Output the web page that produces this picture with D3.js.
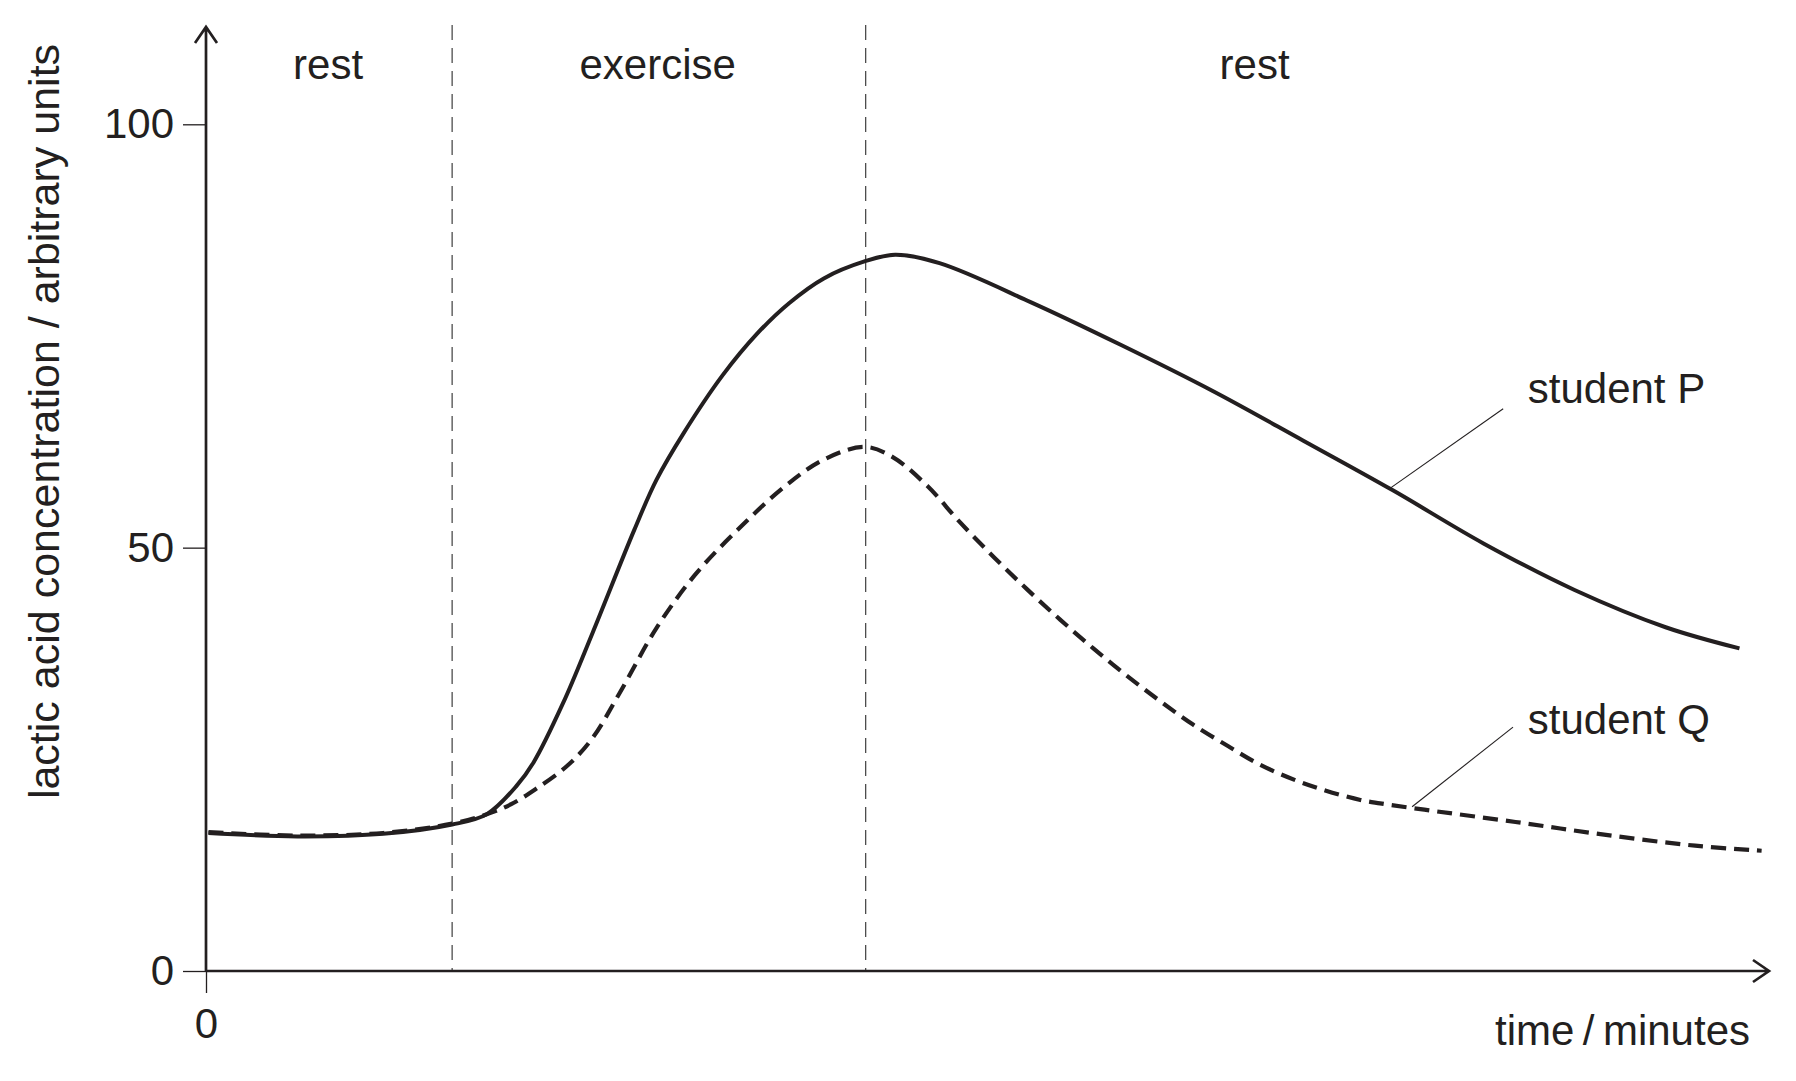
<!DOCTYPE html>
<html>
<head>
<meta charset="utf-8">
<script src="https://cdn.jsdelivr.net/npm/d3@7"></script>
<style>
    body { margin: 0; background: #ffffff; }
    svg { display: block; }
</style>
</head>
<body>
<svg id="chart"></svg>
<script>
// time in minutes (arbitrary scale, the axis has no numbers except 0)
const timeP = [0.1, 3.7, 7.2, 10.0, 11.4, 12.6, 13.3, 14.5, 15.7, 17.4, 18.3, 19.4, 21.0, 22.4, 23.7,
    25.1, 26.75, 28.0, 29.8, 33.5, 37.2, 40.9, 44.6, 48.2, 51.9, 55.6, 59.3, 62.3];
const lacticP = [16.3, 15.9, 16.2, 17.3, 18.5, 21.8, 24.6, 31.6, 39.9, 52.1, 58.0, 63.5, 70.4, 75.3, 78.9,
    81.8, 83.8, 84.6, 83.6, 79.0, 73.9, 68.5, 62.6, 56.8, 50.5, 45.0, 40.6, 38.1];

const timeQ = [0.1, 3.7, 7.2, 10.0, 11.4, 12.4, 13.4, 14.7, 15.7, 16.8, 18.3, 19.9, 21.6, 23.5, 25.1,
    26.75, 27.9, 29.3, 30.6, 32.0, 33.35, 34.7, 36.05, 37.4, 38.8, 40.1, 41.5, 42.8, 44.2, 45.5,
    46.9, 47.7, 49.5, 53.2, 56.8, 60.5, 63.2];
const lacticQ = [16.4, 16.0, 16.3, 17.4, 18.5, 19.7, 21.5, 24.3, 27.5, 32.8, 40.5, 46.9, 52.1, 57.2, 60.4,
    61.9, 60.7, 57.3, 53.1, 48.9, 45.1, 41.5, 38.1, 34.9, 31.8, 29.1, 26.6, 24.4, 22.6, 21.3,
    20.2, 19.8, 19.05, 17.6, 16.1, 14.8, 14.2];

// phase boundaries and labels
const phaseBoundaries = [10.0, 26.8];
const phaseLabels = ["rest", "exercise", "rest"];
const phaseLabelTimes = [4.96, 18.35, 42.6];

const yTicks = [0, 50, 100];
const xTicks = [0];

// series labels with leader lines: [time, value] of label and of leader ends
const seriesNames = ["student P", "student Q"];
const labelAt = [[53.7, 67.1], [53.7, 28.0]];
const leaderFrom = [[48.1, 57.0], [49.0, 19.4]];
const leaderTo = [[52.7, 66.4], [53.1, 28.8]];

const W = 1796, H = 1081;
const ink = "#231f20";
const font = "'Liberation Sans', Arial, Helvetica, sans-serif";

const svg = d3.select("#chart").attr("width", W).attr("height", H);
svg.append("rect").attr("width", W).attr("height", H).attr("fill", "#ffffff");

const xScale = d3.scaleLinear().domain([0, 63.5]).range([206, 1769]);
const yScale = d3.scaleLinear().domain([0, 100]).range([971, 124.3]);
const yTop = 27;

// dashed phase boundaries
svg.selectAll(".phase-line")
    .data(phaseBoundaries)
    .enter()
    .append("line")
    .attr("class", "phase-line")
    .attr("x1", d => xScale(d))
    .attr("x2", d => xScale(d))
    .attr("y1", 25)
    .attr("y2", yScale(0))
    .style("stroke", "#4d4d4d")
    .style("stroke-width", 1.3)
    .style("stroke-dasharray", "15,8");

// phase labels
svg.selectAll(".phase-label")
    .data(phaseLabels)
    .enter()
    .append("text")
    .attr("class", "phase-label")
    .attr("x", (d, i) => xScale(phaseLabelTimes[i]))
    .attr("y", 79)
    .style("text-anchor", "middle")
    .style("font-family", font)
    .style("font-size", "42px")
    .style("fill", ink)
    .text(d => d);

// axes
const yAxis = svg.append("g")
    .attr("transform", `translate(${xScale(0)}, 0)`)
    .call(d3.axisLeft(yScale).tickValues(yTicks).tickSize(23).tickPadding(9));
yAxis.select(".domain").remove();
yAxis.selectAll("line").style("stroke", ink).style("stroke-width", 1.3);
yAxis.selectAll("text")
    .style("font-family", font)
    .style("font-size", "42px")
    .style("fill", ink);

const xAxis = svg.append("g")
    .attr("transform", `translate(0, ${yScale(0)})`)
    .call(d3.axisBottom(xScale).tickValues(xTicks).tickSize(22).tickPadding(15));
xAxis.select(".domain").remove();
xAxis.selectAll("line").style("stroke", ink).style("stroke-width", 1.3);
xAxis.selectAll("text")
    .style("font-family", font)
    .style("font-size", "42px")
    .style("fill", ink);

// axis lines with open arrow heads
const x0 = xScale(0), y0 = yScale(0), xEnd = xScale(63.5);
const axisPath = d3.path();
axisPath.moveTo(x0, y0);
axisPath.lineTo(x0, yTop);
axisPath.moveTo(x0 - 11, yTop + 16);
axisPath.lineTo(x0, yTop);
axisPath.lineTo(x0 + 11, yTop + 16);
axisPath.moveTo(x0, y0);
axisPath.lineTo(xEnd, y0);
axisPath.moveTo(xEnd - 16, y0 - 11);
axisPath.lineTo(xEnd, y0);
axisPath.lineTo(xEnd - 16, y0 + 11);
svg.append("path")
    .attr("d", axisPath.toString())
    .style("fill", "none")
    .style("stroke", ink)
    .style("stroke-width", 2.7)
    .style("stroke-linejoin", "miter");

// axis titles
svg.append("text")
    .attr("transform", `translate(59, 421.5) rotate(-90)`)
    .style("text-anchor", "middle")
    .style("font-family", font)
    .style("font-size", "43px")
    .style("fill", ink)
    .text("lactic acid concentration / arbitrary units");

svg.append("text")
    .attr("x", 1750)
    .attr("y", 1045)
    .style("text-anchor", "end")
    .style("font-family", font)
    .style("font-size", "42px")
    .style("fill", ink)
    .text("time\u2009/\u2009minutes");

// curves
const line = d3.line()
    .x(d => xScale(d[0]))
    .y(d => yScale(d[1]))
    .curve(d3.curveCatmullRom.alpha(0.5));

const dataP = timeP.map((t, i) => [t, lacticP[i]]);
const dataQ = timeQ.map((t, i) => [t, lacticQ[i]]);

svg.append("path")
    .datum(dataQ)
    .attr("d", line)
    .style("fill", "none")
    .style("stroke", ink)
    .style("stroke-width", 4.2)
    .style("stroke-dasharray", "15,8");

svg.append("path")
    .datum(dataP)
    .attr("d", line)
    .style("fill", "none")
    .style("stroke", ink)
    .style("stroke-width", 4);

// leader lines and series labels
svg.selectAll(".leader")
    .data(seriesNames)
    .enter()
    .append("line")
    .attr("class", "leader")
    .attr("x1", (d, i) => xScale(leaderFrom[i][0]))
    .attr("y1", (d, i) => yScale(leaderFrom[i][1]))
    .attr("x2", (d, i) => xScale(leaderTo[i][0]))
    .attr("y2", (d, i) => yScale(leaderTo[i][1]))
    .style("stroke", ink)
    .style("stroke-width", 1.1);

svg.selectAll(".series-label")
    .data(seriesNames)
    .enter()
    .append("text")
    .attr("class", "series-label")
    .attr("x", (d, i) => xScale(labelAt[i][0]))
    .attr("y", (d, i) => yScale(labelAt[i][1]))
    .style("font-family", font)
    .style("font-size", "42px")
    .style("fill", ink)
    .text(d => d);
</script>
</body>
</html>
